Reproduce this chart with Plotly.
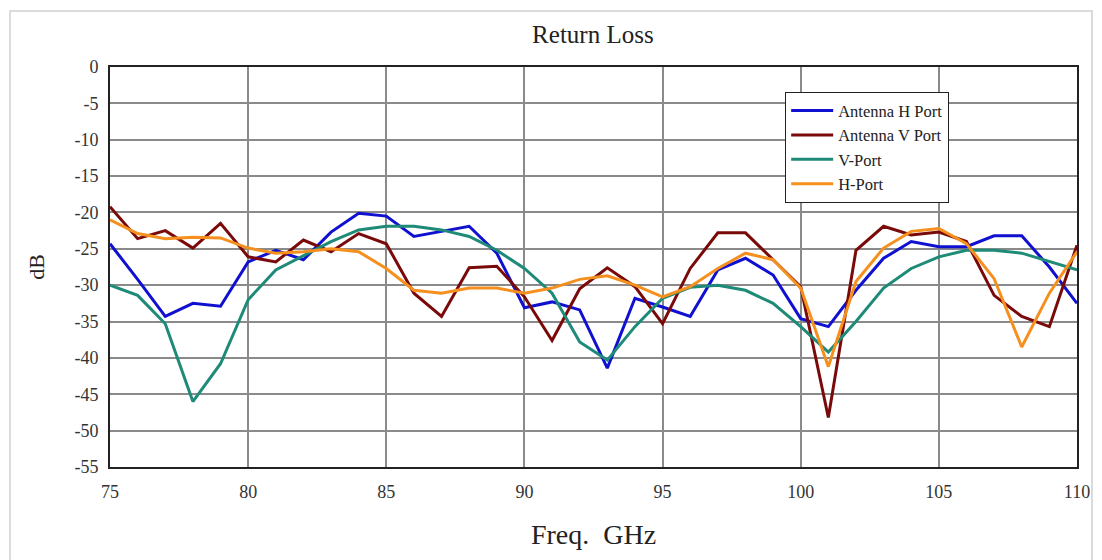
import plotly.graph_objects as go

freq = list(range(75, 111))

antenna_h = [-24.3, -29.2, -34.3, -32.5, -32.9, -26.8, -25.2, -26.5, -22.7, -20.1,
             -20.5, -23.3, -22.6, -21.9, -25.6, -33.1, -32.3, -33.4, -41.4, -31.8,
             -33.0, -34.3, -27.9, -26.3, -28.6, -34.6, -35.7, -30.7, -26.3, -24.0,
             -24.7, -24.7, -23.2, -23.2, -27.5, -32.5]

antenna_v = [-19.2, -23.6, -22.5, -24.9, -21.5, -26.1, -26.8, -23.8, -25.4, -22.9,
             -24.3, -31.1, -34.3, -27.6, -27.4, -31.6, -37.6, -30.5, -27.6, -30.2,
             -35.3, -27.7, -22.8, -22.8, -26.5, -30.2, -48.2, -25.2, -21.9, -23.1,
             -22.7, -24.0, -31.4, -34.3, -35.7, -24.5]

v_port = [-30.0, -31.4, -35.3, -46.0, -40.8, -32.0, -27.9, -25.9, -24.0, -22.4,
          -21.9, -21.9, -22.4, -23.3, -25.2, -27.7, -31.1, -37.8, -40.3, -35.7,
          -31.8, -30.3, -30.0, -30.7, -32.5, -35.7, -39.2, -35.0, -30.4, -27.7,
          -26.1, -25.2, -25.2, -25.6, -26.8, -27.9]

h_port = [-21.0, -22.9, -23.6, -23.4, -23.5, -24.9, -25.6, -25.4, -25.0, -25.4,
          -27.7, -30.7, -31.1, -30.4, -30.4, -31.1, -30.4, -29.2, -28.7, -30.0,
          -31.6, -30.2, -27.7, -25.6, -26.5, -30.4, -41.2, -29.5, -24.9, -22.6,
          -22.2, -24.3, -29.1, -38.5, -31.1, -25.4]

series_names = ["Antenna H Port", "Antenna V Port", "V-Port", "H-Port"]
series_data = [antenna_h, antenna_v, v_port, h_port]
series_colors = ["#1010D0", "#7A0A0A", "#1E8A78", "#F5901E"]

x_ticks = [75, 80, 85, 90, 95, 100, 105, 110]
y_ticks = [0, -5, -10, -15, -20, -25, -30, -35, -40, -45, -50, -55]
y_tick_labels = ["0", "-5", "-10", "-15", "-20", "-25", "-30", "-35", "-40", "-45", "-50", "-55"]

serif = "Liberation Serif, Times New Roman, serif"

fig = go.Figure()
for name, data, color in zip(series_names, series_data, series_colors):
    fig.add_trace(go.Scatter(x=freq, y=data, mode="lines", name=name,
                             line=dict(color=color, width=3)))

fig.update_layout(
    width=1102, height=560,
    margin=dict(l=110, r=25, t=67, b=93),
    paper_bgcolor="white", plot_bgcolor="white",
    title=dict(text="Return Loss", x=0.538, xanchor="center", y=0.938, yanchor="middle",
               font=dict(family=serif, size=25, color="#222")),
    font=dict(family=serif, color="#333"),
    legend=dict(x=0.698, y=0.9375, xanchor="left", yanchor="top",
                bgcolor="white", bordercolor="#222", borderwidth=1.2,
                font=dict(family=serif, size=16.5, color="#222"),
                tracegroupgap=0, itemwidth=42),
    showlegend=True,
)

fig.update_xaxes(range=[75, 110], tickvals=x_ticks, showgrid=True,
                 gridcolor="#8a8a8a", gridwidth=1.5, zeroline=False,
                 showline=True, linecolor="#222", linewidth=2, mirror=True,
                 ticks="", ticklabelstandoff=7,
                 tickfont=dict(family=serif, size=18, color="#333"),
                 title=dict(text="Freq.  GHz", font=dict(family=serif, size=28, color="#222"),
                            standoff=24))
fig.update_yaxes(range=[-55, 0], tickvals=y_ticks, ticktext=y_tick_labels, showgrid=True,
                 gridcolor="#8a8a8a", gridwidth=1.5, zeroline=False,
                 showline=True, linecolor="#222", linewidth=2, mirror=True,
                 ticks="", ticklabelstandoff=6,
                 tickfont=dict(family=serif, size=18, color="#333"),
                 title=dict(text="dB", font=dict(family=serif, size=22, color="#222"),
                            standoff=24))

fig.add_shape(type="rect", xref="paper", yref="paper",
              x0=-100/967, x1=(1092-110)/967, y0=-100/400, y1=(467-11)/400,
              line=dict(color="#d0d0d0", width=1.5), layer="below")

fig.write_html("out.html", config={"displayModeBar": False},
               post_script="document.body.style.margin='0';document.body.style.padding='0';")
